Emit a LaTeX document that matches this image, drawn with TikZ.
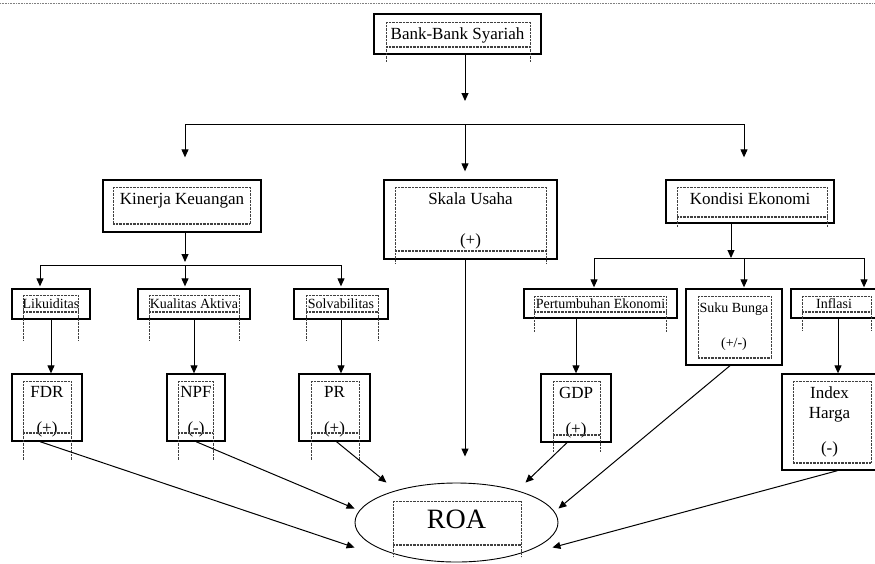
\documentclass[tikz,border=0pt]{standalone}
\usepackage{fontspec}
\setmainfont{Liberation Serif}
\usetikzlibrary{arrows.meta, shapes.geometric, calc}

% dotted text-box frame: x1, x2, top, mid line, bottom
\newcommand{\txtframe}[5]{%
  \draw[frame] (#1,#3) -- (#2,#3);
  \draw[frame] (#1,#3) -- (#1,#5);
  \draw[frame] (#2,#3) -- (#2,#5);
  \draw[frame, line width=1.1pt] (#1,#4) -- (#2,#4);
}

\begin{document}
\begin{tikzpicture}[
    x=1pt, y=-1pt, >={Triangle[length=8pt, width=7pt]}, line width=1pt,
    box/.style={draw, rectangle, line width=1.3pt, inner sep=0pt, align=center, font=\fontsize{17}{20}\selectfont},
    smallbox/.style={box, font=\fontsize{14}{16}\selectfont, text height=10pt, text depth=1pt},
    frame/.style={black!75, line width=0.5pt, dash pattern=on 0.7pt off 0.7pt}
]
\useasboundingbox (0,0) rectangle (875,563);
\draw[gray, line width=0.6pt, dash pattern=on 0.8pt off 0.8pt] (0,3) -- (875,3);

\node (bank_syariah) [box, minimum width=167pt, minimum height=40pt, text height=12pt, text depth=2pt] at (457.5,34) {Bank-Bank Syariah};
\node (kinerja_keuangan) [box, minimum width=158pt, minimum height=52pt, text height=12pt, text depth=16pt] at (182,206) {Kinerja Keuangan};
\node (skala_usaha) [box, minimum width=173pt, minimum height=79pt] at (470.5,219.5) {\rule{0pt}{14pt}Skala Usaha\\[21pt](+)};
\node (kondisi_ekonomi) [box, minimum width=168pt, minimum height=43pt, text height=12pt, text depth=7pt] at (750,201.5) {Kondisi Ekonomi};
\node (likuiditas) [smallbox, minimum width=78pt, minimum height=30pt] at (51,304) {Likuiditas};
\node (kualitas_aktiva) [smallbox, minimum width=112pt, minimum height=30pt] at (194,304) {Kualitas Aktiva};
\node (solvabilitas) [smallbox, minimum width=94pt, minimum height=30pt] at (341,304) {Solvabilitas};
\node (pertumbuhan_ekonomi) [smallbox, minimum width=153pt, minimum height=29pt] at (600.5,303.5) {Pertumbuhan Ekonomi};
\node (suku_bunga) [box, font=\fontsize{14}{16}\selectfont, minimum width=96pt, minimum height=76pt] at (734,327) {Suku Bunga\\[19pt](+/-)};
\node (inflasi) [smallbox, minimum width=86pt, minimum height=29pt] at (834,303.5) {Inflasi};
\node (fdr) [box, minimum width=70pt, minimum height=67pt] at (47,407.5) {\rule{0pt}{20pt}FDR\\[16pt](+)};
\node (npf) [box, minimum width=58pt, minimum height=67pt] at (196,407.5) {\rule{0pt}{20pt}NPF\\[16pt](-)};
\node (pr) [box, minimum width=71pt, minimum height=67pt] at (334.5,407.5) {\rule{0pt}{20pt}PR\\[16pt](+)};
\node (gdp) [box, minimum width=70pt, minimum height=68pt] at (576,408) {\rule{0pt}{20pt}GDP\\[16pt](+)};
\node (index_harga) [box, minimum width=95pt, minimum height=96pt] at (829.5,422) {Index\\Harga\\[15pt](-)};
\node (roa) [ellipse, draw, line width=0.9pt, inner sep=0pt, minimum width=203pt, minimum height=79pt, font=\fontsize{28}{32}\selectfont, text height=19pt, text depth=6.4pt] at (456.5,522.5) {ROA};

% dotted frames of the text boxes
\txtframe{386}{530}{22}{47}{62}
\txtframe{113}{250}{187}{224}{224}
\txtframe{395}{546}{187}{251}{263}
\txtframe{677}{827}{187}{217}{227}
\txtframe{23}{78}{295}{312}{340}
\txtframe{149}{239}{295}{312}{340}
\txtframe{306}{378}{295}{312}{340}
\txtframe{534}{666}{296}{312}{332}
\txtframe{698}{771}{296}{358}{358}
\txtframe{802}{871}{296}{312}{330}
\txtframe{23}{71}{381}{433}{460}
\txtframe{178}{213}{381}{433}{460}
\txtframe{311}{359}{381}{433}{460}
\txtframe{553}{600}{381}{435}{452}
\txtframe{793}{871}{381}{463}{463}
\txtframe{393}{521}{501}{545}{557}

\coordinate (split_top) at (465,124);
\coordinate (split_top_l) at (185,124);
\coordinate (split_top_r) at (744,124);
\coordinate (split_kin) at (185,265);
\coordinate (split_kin_l) at (40,265);
\coordinate (split_kin_r) at (341,265);
\coordinate (split_kon) at (731,258);
\coordinate (split_kon_l) at (594,258);
\coordinate (split_kon_m) at (744,258);
\coordinate (split_kon_r) at (864,258);

\draw[->, shorten >=23pt] (bank_syariah.south -| split_top) -- (split_top);
\draw (split_top_l) -- (split_top_r);
\draw[->, shorten >=22pt] (split_top_l) -- (split_top_l |- kinerja_keuangan.north);
\draw[->, shorten >=8pt] (split_top) -- (split_top |- skala_usaha.north);
\draw[->, shorten >=22pt] (split_top_r) -- (split_top_r |- kondisi_ekonomi.north);

\draw[->, shorten >=3pt] (kinerja_keuangan.south -| split_kin) -- (split_kin);
\draw (split_kin_l) -- (split_kin_r);
\draw[->, shorten >=2pt] (split_kin_l) -- (split_kin_l |- likuiditas.north);
\draw[->, shorten >=2pt] (split_kin) -- (split_kin |- kualitas_aktiva.north);
\draw[->, shorten >=2pt] (split_kin_r) -- (split_kin_r |- solvabilitas.north);

\draw[->] (kondisi_ekonomi.south -| split_kon) -- (split_kon);
\draw (split_kon_l) -- (split_kon_r);
\draw[->, shorten >=1pt] (split_kon_l) -- (split_kon_l |- pertumbuhan_ekonomi.north);
\draw[->, shorten >=1pt] (split_kon_m) -- (split_kon_m |- suku_bunga.north);
\draw[->, shorten >=1pt] (split_kon_r) -- (split_kon_r |- inflasi.north);

\draw[->] (likuiditas.south) -- (likuiditas.south |- fdr.north);
\draw[->] (kualitas_aktiva.south) -- (kualitas_aktiva.south |- npf.north);
\draw[->] (solvabilitas.south) -- (solvabilitas.south |- pr.north);
\draw[->] (gdp.north |- pertumbuhan_ekonomi.south) -- (gdp.north);
\draw[->] ([xshift=4pt]inflasi.south) -- ([xshift=4pt]inflasi.south |- index_harga.north);

\draw[->] ([xshift=-7pt]fdr.south) -- ([yshift=-25pt]roa.west);
\draw[->] (npf.south) -- ([yshift=14pt]roa.west);
\draw[->] ([xshift=2pt]pr.south) -- ([xshift=-70pt]roa.north);
\draw[->, shorten >=26pt] (split_top |- skala_usaha.south) -- (split_top |- roa.north);
\draw[->] ([xshift=-9pt]gdp.south) -- ([xshift=69pt]roa.north);
\draw[->] ([xshift=-4pt]suku_bunga.south) -- ([yshift=14pt]roa.east);
\draw[->] ([xshift=8pt]index_harga.south) -- ([xshift=-6pt, yshift=-25pt]roa.east);
\end{tikzpicture}
\end{document}
